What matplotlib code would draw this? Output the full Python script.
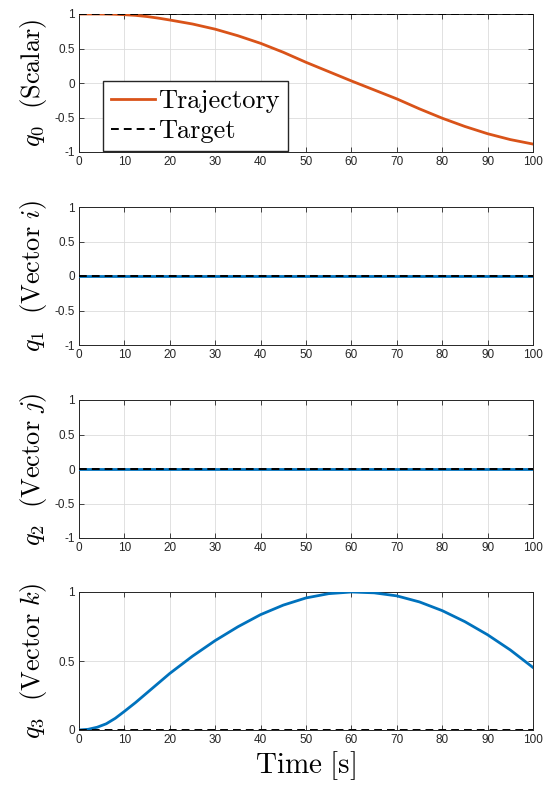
import numpy as np
import matplotlib
matplotlib.use("Agg")
from matplotlib import pyplot as plt

plt.rcParams["mathtext.fontset"] = "cm"
plt.rcParams["font.family"] = "Liberation Sans"

# sample times and quaternion components of the trajectory
t = [0, 2, 4, 6, 8, 10, 12.5, 15, 17.5, 20, 25, 30, 35, 40, 45, 50, 55, 60,
     65, 70, 75, 80, 85, 90, 95, 100]
q0 = [1.0, 1.0, 1.0, 0.999, 0.996, 0.99, 0.98, 0.963, 0.94, 0.913, 0.855,
      0.78, 0.685, 0.575, 0.445, 0.30, 0.165, 0.03, -0.1, -0.23, -0.375,
      -0.51, -0.63, -0.735, -0.82, -0.885]
q1 = [0.0] * len(t)
q2 = [0.0] * len(t)
q3 = [0.0, 0.005, 0.02, 0.045, 0.085, 0.135, 0.2, 0.27, 0.34, 0.41, 0.535,
      0.648, 0.748, 0.836, 0.905, 0.957, 0.988, 1.0, 0.994, 0.972, 0.928,
      0.865, 0.785, 0.69, 0.58, 0.453]

# target quaternion
target = [1.0, 0.0, 0.0, 0.0]

ylabels = [r"$q_0\ \ (\mathrm{Scalar})$", r"$q_1\ \ (\mathrm{Vector}\ i)$",
           r"$q_2\ \ (\mathrm{Vector}\ j)$", r"$q_3\ \ (\mathrm{Vector}\ k)$"]
colors = ["#D95319", "#0072BD", "#0072BD", "#0072BD"]

fig = plt.figure(figsize=(5.51, 7.87), dpi=100)
W, H = 551, 787
tops = [14, 207, 400, 592]
ax_h = 138

for i, q in enumerate([q0, q1, q2, q3]):
    ax = fig.add_axes([79 / W, 1 - (tops[i] + ax_h) / H, 454 / W, ax_h / H])
    ax.plot(t, q, color=colors[i], lw=2, label="Trajectory", zorder=3)
    ax.plot([t[0], t[-1]], [target[i], target[i]], color="k", lw=1.4,
            ls=(0, (4, 2.6)), label="Target", zorder=4)
    ax.set_xlim(0, 100)
    ax.set_xticks(np.arange(0, 101, 10))
    if i == 3:
        ax.set_ylim(0, 1)
        ax.set_yticks([0, 0.5, 1])
        ax.set_yticklabels(["0", "0.5", "1"])
    else:
        ax.set_ylim(-1, 1)
        ax.set_yticks([-1, -0.5, 0, 0.5, 1])
        ax.set_yticklabels(["-1", "-0.5", "0", "0.5", "1"])
    ax.grid(True, color="#dcdcdc", lw=0.6)
    ax.set_axisbelow(True)
    ax.tick_params(direction="in", length=3.5, width=0.6, colors="#262626",
                   labelsize=8.5, top=True, right=True, pad=3)
    for s in ax.spines.values():
        s.set_color("#262626")
        s.set_linewidth(0.7)
    ax.set_ylabel(ylabels[i], fontsize=19)
    ax.yaxis.set_label_coords(-0.066, 0.5)
    if i == 0:
        ax.legend(loc="lower left", bbox_to_anchor=(0.053, 0.005),
                  borderaxespad=0, handlelength=1.65,
                  handletextpad=0.15, borderpad=0.3, labelspacing=0.25,
                  fancybox=False, framealpha=1, edgecolor="#262626",
                  prop={"family": "cmr10", "size": 19})
    if i == 3:
        ax.set_xlabel(r"$\mathrm{Time\ [s]}$", fontsize=21, labelpad=2)

fig.savefig("out.png", dpi=100)
